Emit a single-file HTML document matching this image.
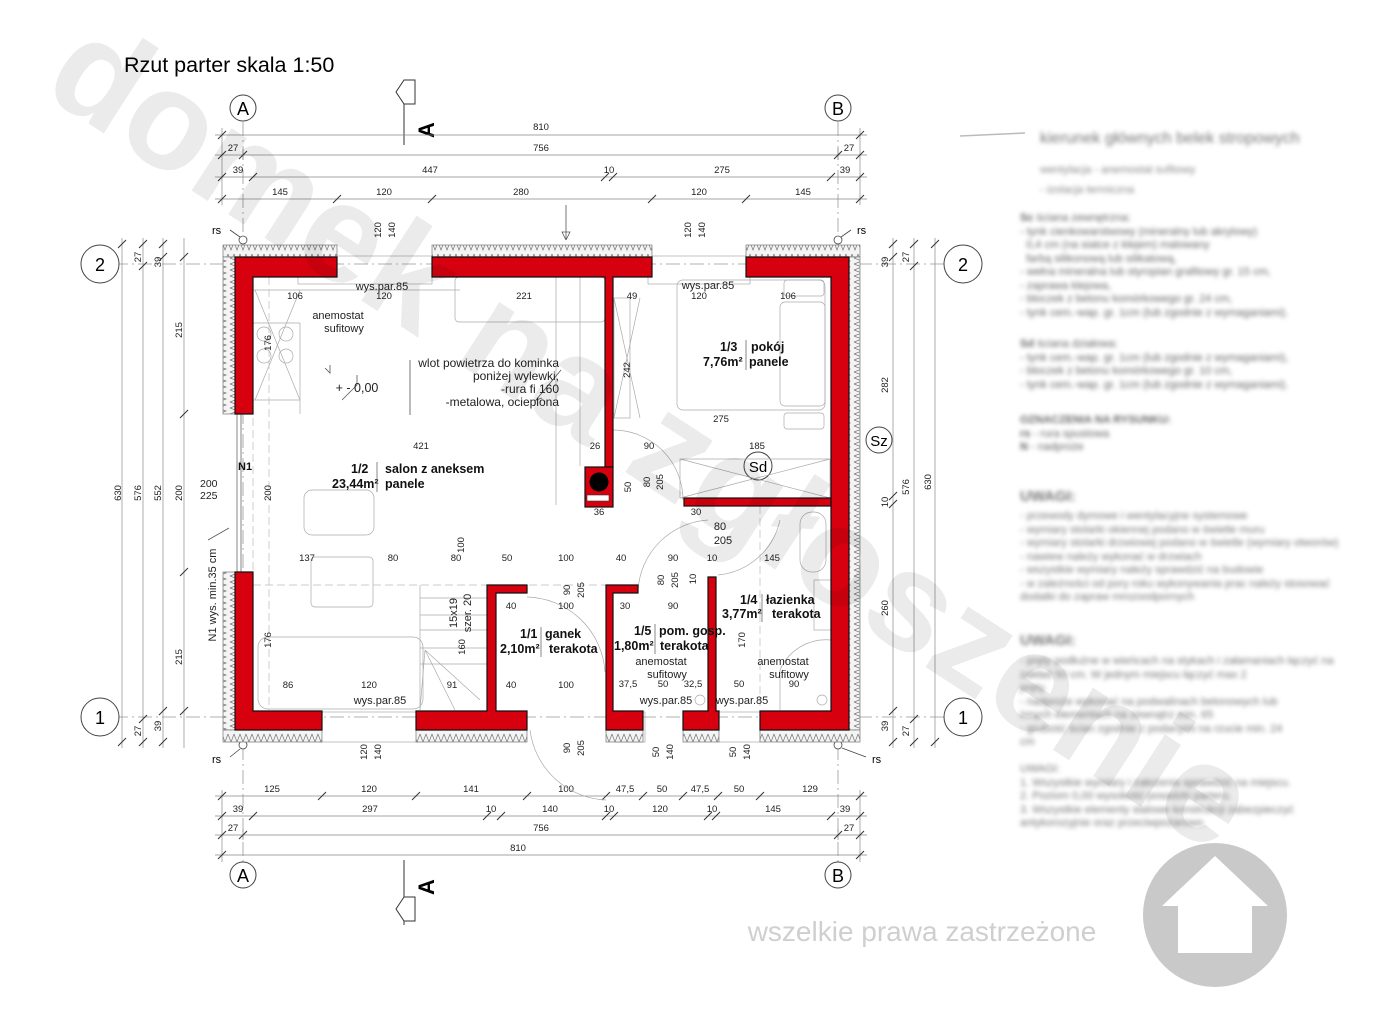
<!DOCTYPE html>
<html><head><meta charset="utf-8"><style>
html,body{margin:0;padding:0;background:#fff}
#wrap{position:relative;width:1396px;height:1022px;overflow:hidden;background:#fff;font-family:"Liberation Sans",sans-serif}
.leg{position:absolute;filter:blur(2px);color:#555;font-family:"Liberation Sans",sans-serif;font-size:11px;line-height:13.5px;white-space:nowrap}
</style></head><body><div id="wrap">
<svg width="1396" height="1022" viewBox="0 0 1396 1022" xmlns="http://www.w3.org/2000/svg" font-family="Liberation Sans, sans-serif">
<defs>
<pattern id="zz" width="6" height="12" patternUnits="userSpaceOnUse">
<rect width="6" height="12" fill="#f4f4f4"/>
<path d="M0,2 L3,10 L6,2" fill="none" stroke="#777" stroke-width="0.7"/>
</pattern>
<pattern id="zzv" width="12" height="6" patternUnits="userSpaceOnUse">
<rect width="12" height="6" fill="#f4f4f4"/>
<path d="M2,0 L10,3 L2,6" fill="none" stroke="#777" stroke-width="0.7"/>
</pattern>
</defs>

<text x="124" y="72" font-size="21.5">Rzut parter skala 1:50</text>

<!-- axes -->
<g stroke="#999" stroke-width="0.8" stroke-dasharray="14,4,2,4" fill="none">
<line x1="243" y1="122" x2="243" y2="862"/>
<line x1="838" y1="122" x2="838" y2="862"/>
<line x1="114" y1="264" x2="950" y2="264"/>
<line x1="114" y1="717" x2="950" y2="717"/>
</g>
<g fill="#fff" stroke="#444" stroke-width="1">
<circle cx="243" cy="108" r="13"/><circle cx="838" cy="108" r="13"/>
<circle cx="243" cy="875" r="13"/><circle cx="838" cy="875" r="13"/>
<circle cx="100" cy="264" r="19"/><circle cx="963" cy="264" r="19"/>
<circle cx="100" cy="717" r="19"/><circle cx="963" cy="717" r="19"/>
<circle cx="879" cy="440" r="13"/><circle cx="758" cy="466" r="14"/>
</g>
<g font-size="18" text-anchor="middle">
<text x="243" y="115">A</text><text x="838" y="115">B</text>
<text x="243" y="882">A</text><text x="838" y="882">B</text>
<text x="100" y="271">2</text><text x="963" y="271">2</text>
<text x="100" y="724">1</text><text x="963" y="724">1</text>
<text x="879" y="446" font-size="15">Sz</text><text x="758" y="472" font-size="15">Sd</text>
</g>

<!-- section markers -->
<g fill="#fff" stroke="#333" stroke-width="1">
<path d="M404,80 L404,145"/>
<path d="M404,80 L396,92 L404,104 L415,104 L415,80 Z"/>
<path d="M404,860 L404,925"/>
<path d="M404,897 L396,909 L404,921 L415,921 L415,897 Z"/>
</g>
<text x="0" y="0" font-size="22" font-weight="bold" transform="translate(434,138) rotate(-90)">A</text>
<text x="0" y="0" font-size="22" font-weight="bold" transform="translate(434,895) rotate(-90)">A</text>

<!-- dimension lines -->
<g stroke="#888" stroke-width="0.7">
<line x1="215" y1="135" x2="867" y2="135"/>
<line x1="215" y1="155" x2="867" y2="155"/>
<line x1="215" y1="177" x2="867" y2="177"/>
<line x1="215" y1="199" x2="867" y2="199"/>
<line x1="215" y1="796" x2="867" y2="796"/>
<line x1="215" y1="816" x2="867" y2="816"/>
<line x1="215" y1="835" x2="867" y2="835"/>
<line x1="215" y1="855" x2="867" y2="855"/>
<line x1="122" y1="238" x2="122" y2="748"/>
<line x1="143" y1="238" x2="143" y2="748"/>
<line x1="163" y1="238" x2="163" y2="748"/>
<line x1="184" y1="238" x2="184" y2="748"/>
<line x1="893" y1="238" x2="893" y2="748"/>
<line x1="914" y1="238" x2="914" y2="748"/>
<line x1="935" y1="238" x2="935" y2="748"/>
<line x1="222" y1="128" x2="222" y2="205"/><line x1="860" y1="128" x2="860" y2="205"/>
<line x1="222" y1="790" x2="222" y2="862"/><line x1="860" y1="790" x2="860" y2="862"/>
<line x1="243" y1="148" x2="243" y2="160"/><line x1="838" y1="148" x2="838" y2="160"/>
<line x1="243" y1="829" x2="243" y2="840"/><line x1="838" y1="829" x2="838" y2="840"/>
</g>
<g stroke="#333" stroke-width="1">
<path d="M218,139l8,-8M856,139l8,-8M218,159l8,-8M239,159l8,-8M834,159l8,-8M856,159l8,-8M218,181l8,-8M249,181l8,-8M601,181l8,-8M609,181l8,-8M827,181l8,-8M856,181l8,-8M218,203l8,-8M333,203l8,-8M428,203l8,-8M648,203l8,-8M742,203l8,-8M856,203l8,-8"/>
<path d="M218,800l8,-8M318,800l8,-8M412,800l8,-8M523,800l8,-8M602,800l8,-8M639,800l8,-8M679,800l8,-8M714,800l8,-8M756,800l8,-8M856,800l8,-8M218,820l8,-8M249,820l8,-8M483,820l8,-8M497,820l8,-8M602,820l8,-8M610,820l8,-8M704,820l8,-8M712,820l8,-8M827,820l8,-8M856,820l8,-8M218,839l8,-8M239,839l8,-8M834,839l8,-8M856,839l8,-8M218,859l8,-8M856,859l8,-8"/>
<path d="M118,248l8,-8M118,746l8,-8M139,248l8,-8M139,270l8,-8M139,723l8,-8M139,746l8,-8M159,248l8,-8M159,261l8,-8M159,715l8,-8M159,746l8,-8M180,261l8,-8M180,418l8,-8M180,576l8,-8M180,715l8,-8"/>
<path d="M889,248l8,-8M889,261l8,-8M889,500l8,-8M889,508l8,-8M889,715l8,-8M889,746l8,-8M910,248l8,-8M910,270l8,-8M910,723l8,-8M910,746l8,-8M931,248l8,-8M931,746l8,-8"/>
</g>
<g font-size="9.5" text-anchor="middle" fill="#222">
<text x="541" y="130">810</text>
<text x="233" y="151">27</text><text x="541" y="151">756</text><text x="849" y="151">27</text>
<text x="238" y="173">39</text><text x="430" y="173">447</text><text x="609" y="173">10</text><text x="722" y="173">275</text><text x="845" y="173">39</text>
<text x="280" y="195">145</text><text x="384" y="195">120</text><text x="521" y="195">280</text><text x="699" y="195">120</text><text x="803" y="195">145</text>
<text x="272" y="792">125</text><text x="369" y="792">120</text><text x="471" y="792">141</text><text x="566" y="792">100</text><text x="625" y="792">47,5</text><text x="662" y="792">50</text><text x="700" y="792">47,5</text><text x="739" y="792">50</text><text x="810" y="792">129</text>
<text x="238" y="812">39</text><text x="370" y="812">297</text><text x="491" y="812">10</text><text x="550" y="812">140</text><text x="609" y="812">10</text><text x="660" y="812">120</text><text x="712" y="812">10</text><text x="773" y="812">145</text><text x="845" y="812">39</text>
<text x="233" y="831">27</text><text x="541" y="831">756</text><text x="849" y="831">27</text>
<text x="518" y="851">810</text>
</g>
<g font-size="9.5" text-anchor="middle" fill="#222">
<text transform="translate(121,493) rotate(-90)">630</text>
<text transform="translate(141,257) rotate(-90)">27</text><text transform="translate(141,493) rotate(-90)">576</text><text transform="translate(141,731) rotate(-90)">27</text>
<text transform="translate(161,262) rotate(-90)">39</text><text transform="translate(161,493) rotate(-90)">552</text><text transform="translate(161,726) rotate(-90)">39</text>
<text transform="translate(182,330) rotate(-90)">215</text><text transform="translate(182,493) rotate(-90)">200</text><text transform="translate(182,657) rotate(-90)">215</text>
<text transform="translate(888,262) rotate(-90)">39</text><text transform="translate(888,385) rotate(-90)">282</text><text transform="translate(888,502) rotate(-90)">10</text><text transform="translate(888,608) rotate(-90)">260</text><text transform="translate(888,726) rotate(-90)">39</text>
<text transform="translate(909,257) rotate(-90)">27</text><text transform="translate(909,487) rotate(-90)">576</text><text transform="translate(909,731) rotate(-90)">27</text>
<text transform="translate(931,482) rotate(-90)">630</text>
</g>
<g font-size="10.5" fill="#222">
<text x="200" y="487">200</text><text x="200" y="499">225</text>
</g>

<!-- rs markers -->
<g stroke="#444" stroke-width="0.8" fill="#fff">
<circle cx="243" cy="240" r="4"/><circle cx="838" cy="240" r="4"/><circle cx="243" cy="745" r="4"/><circle cx="838" cy="745" r="4"/>
<path d="M230,230l10,7M851,230l-10,7M230,757l10,-8M866,757l-24,-9" fill="none"/>
</g>
<g font-size="11"><text x="212" y="234">rs</text><text x="857" y="234">rs</text><text x="212" y="763">rs</text><text x="872" y="763">rs</text></g>

<!-- interior thin lines / furniture -->
<g stroke="#aaa" stroke-width="0.7" fill="none">
<rect x="298" y="256" width="134" height="28"/>
<rect x="648" y="256" width="102" height="28"/>
<rect x="318" y="712" width="102" height="30"/>
<rect x="615" y="712" width="30" height="30"/>
<rect x="718" y="712" width="42" height="30"/>
<line x1="253" y1="290" x2="460" y2="290"/><line x1="253" y1="323" x2="300" y2="323"/>
<line x1="300" y1="323" x2="300" y2="414"/>
<line x1="253" y1="400" x2="300" y2="400"/>
<rect x="455" y="277" width="150" height="45" rx="4"/>
<circle cx="264" cy="334" r="7"/><circle cx="286" cy="334" r="7"/><circle cx="264" cy="356" r="7"/><circle cx="286" cy="356" r="7"/>
<path d="M255,290 L300,400 M300,290 L255,400"/>
<rect x="677" y="280" width="148" height="130" rx="6"/>
<rect x="780" y="302" width="45" height="104" rx="5"/>
<rect x="784" y="280" width="40" height="16" rx="3"/><rect x="784" y="413" width="40" height="16" rx="3"/>
<rect x="614" y="298" width="16" height="120"/>
<path d="M614,298 L640,418 M640,298 L614,418"/>
<path d="M556,277 L556,505 M580,277 L580,466"/>
<path d="M680,459 L830,459 L830,498 L680,498 Z M680,459 L830,498 M830,459 L680,498"/>
<path d="M613,430 A70,70 0 0 1 683,500"/>
<path d="M527,597 A80,80 0 0 1 605,672"/>
<path d="M530,730 A80,80 0 0 0 606,800"/>
<path d="M638,590 A75,75 0 0 1 708,520"/>
<path d="M718,575 A70,70 0 0 0 780,520"/>
<rect x="304" y="490" width="70" height="45" rx="8"/>
<rect x="311" y="557" width="62" height="50" rx="4"/>
<rect x="258" y="637" width="165" height="72" rx="10"/>
<path d="M420,585 L420,710 M420,598 L487,598 M420,615 L487,615 M420,630 L487,630 M420,648 L487,648 M420,664 L487,664"/>
<path d="M425,650 L420,710 M425,650 L455,710 M425,650 L480,700"/>
<rect x="800" y="512" width="26" height="60" rx="12"/>
<rect x="814" y="580" width="17" height="50"/>
<path d="M780,710 L780,670 A50,50 0 0 1 831,640"/>
<circle cx="700" cy="700" r="5"/><circle cx="822" cy="700" r="5"/>
</g>
<g stroke="#bbb" stroke-width="0.7" stroke-dasharray="8,4" fill="none">
<line x1="253" y1="585" x2="610" y2="585"/><line x1="253" y1="418" x2="253" y2="572"/>
<line x1="269" y1="277" x2="269" y2="710"/><line x1="760" y1="506" x2="760" y2="710"/>
</g>
<g stroke="#666" stroke-width="0.8"><line x1="237" y1="414" x2="237" y2="572"/><line x1="241" y1="414" x2="241" y2="572"/></g>
<g stroke="#555" stroke-width="0.8" fill="none">
<path d="M330,365 l0,8 l-5,-5 M342,400 l15,-15 l0,-10 M410,360 L410,415 M561,370 l-25,30 l6,-2 M566,205 l0,35 l-4,-8 l8,0 l-4,8"/>
<path d="M229,528 L208,540"/>
</g>

<!-- hatched insulation -->
<g stroke="#777" stroke-width="0.7">
<rect x="223" y="245" width="114" height="12" fill="url(#zz)"/>
<rect x="432" y="245" width="220" height="12" fill="url(#zz)"/>
<rect x="746" y="245" width="114" height="12" fill="url(#zz)"/>
<rect x="223" y="257" width="12" height="157" fill="url(#zzv)"/>
<rect x="223" y="572" width="12" height="158" fill="url(#zzv)"/>
<rect x="849" y="257" width="11" height="473" fill="url(#zzv)"/>
<rect x="223" y="730" width="99" height="12" fill="url(#zz)"/>
<rect x="416" y="730" width="111" height="12" fill="url(#zz)"/>
<rect x="606" y="730" width="37" height="12" fill="url(#zz)"/>
<rect x="683" y="730" width="36" height="12" fill="url(#zz)"/>
<rect x="760" y="730" width="100" height="12" fill="url(#zz)"/>
</g>

<!-- walls -->
<g fill="#d7000f" stroke="#111" stroke-width="1.2">
<polygon points="235,257 337,257 337,277 253,277 253,414 235,414"/>
<polygon points="432,257 652,257 652,277 613,277 613,467 605,467 605,277 432,277"/>
<rect x="585" y="467" width="28" height="40"/>
<polygon points="746,257 849,257 849,730 760,730 760,711 831,711 831,277 746,277"/>
<rect x="684" y="498" width="147" height="8"/>
<polygon points="235,572 253,572 253,711 322,711 322,730 235,730"/>
<polygon points="487,585 527,585 527,593 496,593 496,711 527,711 527,730 416,730 416,711 487,711"/>
<polygon points="606,585 638,585 638,593 613,593 613,711 643,711 643,730 606,730"/>
<polygon points="708,577 716,577 716,711 719,711 719,730 683,730 683,711 708,711"/>
</g>
<circle cx="599" cy="482" r="9.5" fill="#000"/>
<rect x="587" y="495" width="22" height="6" fill="#fff" stroke="#333" stroke-width="0.6"/>

<!-- room texts -->
<g font-size="9.5" text-anchor="middle" fill="#222">
<text x="295" y="299">106</text><text x="384" y="299">120</text><text x="524" y="299">221</text><text x="632" y="299">49</text>
<text x="699" y="299">120</text><text x="788" y="299">106</text>
<text x="721" y="422">275</text><text x="421" y="449">421</text><text x="595" y="449">26</text><text x="649" y="449">90</text><text x="757" y="449">185</text>
<text x="599" y="515">36</text><text x="696" y="515">30</text>
<text x="307" y="561">137</text><text x="393" y="561">80</text><text x="456" y="561">80</text><text x="507" y="561">50</text><text x="566" y="561">100</text><text x="621" y="561">40</text><text x="673" y="561">90</text><text x="712" y="561">10</text><text x="772" y="561">145</text>
<text x="511" y="609">40</text><text x="566" y="609">100</text><text x="625" y="609">30</text><text x="673" y="609">90</text>
<text x="288" y="688">86</text><text x="369" y="688">120</text><text x="452" y="688">91</text><text x="511" y="688">40</text><text x="566" y="688">100</text><text x="628" y="687">37,5</text><text x="663" y="687">50</text><text x="693" y="687">32,5</text><text x="739" y="687">50</text><text x="794" y="687">90</text>
<text transform="translate(271,343) rotate(-90)">176</text><text transform="translate(630,370) rotate(-90)">242</text>
<text transform="translate(631,487) rotate(-90)">50</text><text transform="translate(650,482) rotate(-90)">80</text><text transform="translate(663,482) rotate(-90)">205</text>
<text transform="translate(271,493) rotate(-90)">200</text>
<text transform="translate(464,545) rotate(-90)">100</text>
<text transform="translate(570,590) rotate(-90)">90</text><text transform="translate(584,590) rotate(-90)">205</text>
<text transform="translate(664,580) rotate(-90)">80</text><text transform="translate(678,580) rotate(-90)">205</text><text transform="translate(696,579) rotate(-90)">10</text>
<text transform="translate(271,640) rotate(-90)">176</text><text transform="translate(465,647) rotate(-90)">160</text><text transform="translate(745,640) rotate(-90)">170</text>
<text transform="translate(381,230) rotate(-90)">120</text><text transform="translate(395,230) rotate(-90)">140</text>
<text transform="translate(691,230) rotate(-90)">120</text><text transform="translate(705,230) rotate(-90)">140</text>
<text transform="translate(367,752) rotate(-90)">120</text><text transform="translate(381,752) rotate(-90)">140</text>
<text transform="translate(570,748) rotate(-90)">90</text><text transform="translate(584,748) rotate(-90)">205</text>
<text transform="translate(659,752) rotate(-90)">50</text><text transform="translate(673,752) rotate(-90)">140</text>
<text transform="translate(736,752) rotate(-90)">50</text><text transform="translate(750,752) rotate(-90)">140</text>
</g>
<g font-size="11" fill="#222" text-anchor="middle">
<text x="453" y="617" transform="rotate(-90 453 613)">15x19</text>
<text x="467" y="617" transform="rotate(-90 467 613)">szer. 20</text>
<text x="720" y="530">80</text><text x="723" y="544">205</text>
<text x="382" y="290">wys.par.85</text><text x="708" y="289">wys.par.85</text>
<text x="380" y="704">wys.par.85</text><text x="666" y="704">wys.par.85</text><text x="742" y="704">wys.par.85</text>
<text x="338" y="319">anemostat</text><text x="344" y="332">sufitowy</text>
<text x="661" y="665">anemostat</text><text x="667" y="678">sufitowy</text>
<text x="783" y="665">anemostat</text><text x="789" y="678">sufitowy</text>
<text x="357" y="392" font-size="12.5">+ - 0,00</text>
<text transform="translate(216,595) rotate(-90)" font-size="11">N1 wys. min.35 cm</text>
</g>
<g font-size="12" fill="#222" text-anchor="end">
<text x="559" y="367">wlot powietrza do kominka</text>
<text x="559" y="380">poniżej wylewki,</text>
<text x="559" y="393">-rura fi 160</text>
<text x="559" y="406">-metalowa, ocieplona</text>
</g>
<g font-size="12.5" font-weight="bold" fill="#111">
<text x="238" y="470" font-size="11">N1</text>
<text x="351" y="473">1/2</text><text x="385" y="473">salon z aneksem</text>
<text x="332" y="488">23,44m²</text><text x="385" y="488">panele</text>
<text x="720" y="351">1/3</text><text x="751" y="351">pokój</text>
<text x="703" y="366">7,76m²</text><text x="749" y="366">panele</text>
<text x="740" y="604">1/4</text><text x="766" y="604">łazienka</text>
<text x="722" y="618">3,77m²</text><text x="772" y="618">terakota</text>
<text x="520" y="638">1/1</text><text x="545" y="638">ganek</text>
<text x="500" y="653">2,10m²</text><text x="549" y="653">terakota</text>
<text x="634" y="635">1/5</text><text x="659" y="635">pom. gosp.</text>
<text x="614" y="650">1,80m²</text><text x="660" y="650">terakota</text>
</g>
<g stroke="#555" stroke-width="0.7">
<line x1="377" y1="462" x2="377" y2="492"/><line x1="746" y1="340" x2="746" y2="370"/>
<line x1="541" y1="627" x2="541" y2="657"/><line x1="655" y1="624" x2="655" y2="654"/><line x1="762" y1="594" x2="762" y2="622"/>
</g>

<!-- logo -->
<circle cx="1215" cy="915" r="72" fill="#c9c9c9"/>
<polygon points="1215,856 1268,906 1252,906 1252,953 1178,953 1178,906 1162,906" fill="#fff"/>
<text x="922" y="941" font-size="28" fill="#cfcfcf" text-anchor="middle">wszelkie prawa zastrzeżone</text>
<line x1="960" y1="136" x2="1025" y2="133" stroke="#bbb" stroke-width="1.5"/>

<!-- watermark -->
<text x="0" y="0" font-size="140" font-weight="bold" fill="#000" fill-opacity="0.08" transform="translate(40,92) rotate(33)">domek na zgłoszenie</text>
</svg>

<div class="leg" style="left:1040px;top:132px;font-size:16px;color:#777">kierunek głównych belek stropowych</div>
<div class="leg" style="left:1040px;top:164px;font-size:11px;color:#888">wentylacja - anemostat sufitowy</div>
<div class="leg" style="left:1040px;top:184px;font-size:11px;color:#888">- izolacja termiczna</div>
<div class="leg" style="left:1020px;top:212px;color:#666"><b>Sc</b> ściana zewnętrzna:<br>- tynk cienkowarstwowy (mineralny lub akrylowy)<br>&nbsp;&nbsp;0,4 cm (na siatce z klejem) malowany<br>&nbsp;&nbsp;farbą silikonową lub silikatową,<br>- wełna mineralna lub styropian grafitowy gr. 15 cm,<br>- zaprawa klejowa,<br>- bloczek z betonu komórkowego gr. 24 cm,<br>- tynk cem.-wap. gr. 1cm (lub zgodnie z wymaganiami).</div>
<div class="leg" style="left:1020px;top:338px;color:#666"><b>Sd</b> ściana działowa:<br>- tynk cem.-wap. gr. 1cm (lub zgodnie z wymaganiami),<br>- bloczek z betonu komórkowego gr. 10 cm,<br>- tynk cem.-wap. gr. 1cm (lub zgodnie z wymaganiami).</div>
<div class="leg" style="left:1020px;top:414px;color:#666"><b>OZNACZENIA NA RYSUNKU:</b><br><b>rs</b> - rura spustowa<br><b>N</b> - nadproże</div>
<div class="leg" style="left:1020px;top:490px;font-size:15px;color:#777"><b>UWAGI:</b></div>
<div class="leg" style="left:1020px;top:510px;color:#777">- przewody dymowe i wentylacyjne systemowe<br>- wymiary stolarki okiennej podano w świetle muru<br>- wymiary stolarki drzwiowej podano w świetle (wymiary otworów)<br>- nawiew należy wykonać w drzwiach<br>- wszystkie wymiary należy sprawdzić na budowie<br>- w zależności od pory roku wykonywania prac należy stosować<br>dodatki do zapraw mrozoodpornych</div>
<div class="leg" style="left:1020px;top:634px;font-size:15px;color:#777"><b>UWAGI:</b></div>
<div class="leg" style="left:1020px;top:655px;color:#777">- pręty podłużne w wieńcach na stykach i załamaniach łączyć na<br>zakład 50 cm. W jednym miejscu łączyć max 2<br>pręty.<br>- nadproże wykonać na podwalinach betonowych lub<br>innych elementach na zewnątrz min. 65<br>- grubość ścian zgodnie z podanymi na rzucie min. 24<br>cm<br><br>UWAGI:<br>1. Wszystkie wymiary i założenia sprawdzić na miejscu.<br>2. Poziom 0,00 wysokość posadzki parteru.<br>3. Wszystkie elementy stalowe konstrukcji zabezpieczyć<br>antykorozyjnie oraz przeciwpożarowo.</div>
</div></body></html>
